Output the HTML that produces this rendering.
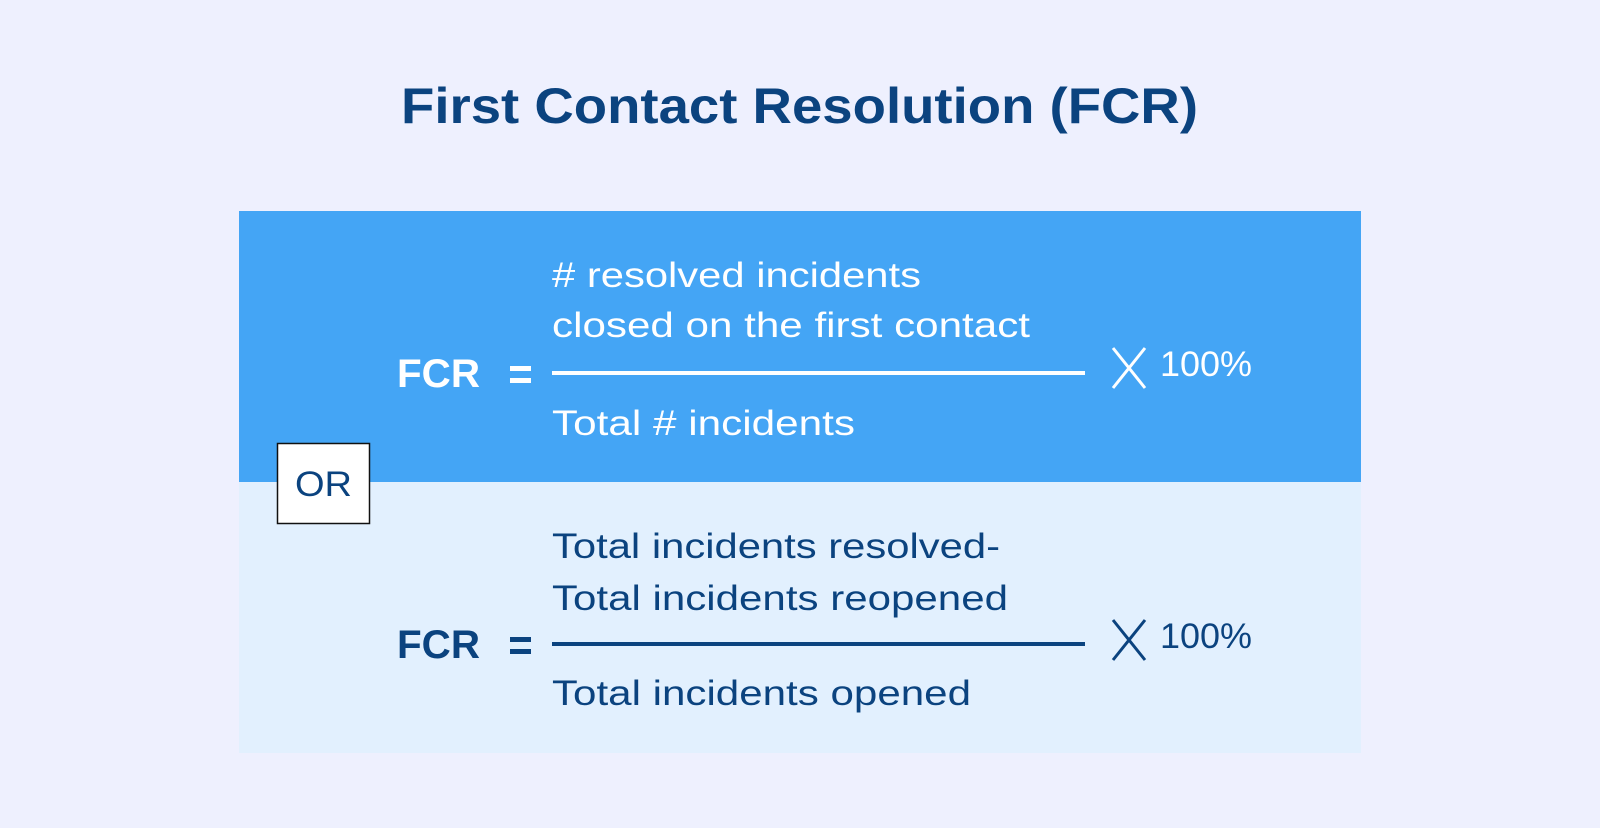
<!DOCTYPE html>
<html><head><meta charset="utf-8"><style>
html,body{margin:0;padding:0;background:#eef0fe;}
svg{display:block}
text{font-family:"Liberation Sans",sans-serif;}
</style></head><body>
<svg width="1600" height="828" viewBox="0 0 1600 828">
<rect width="1600" height="828" fill="#eef0fe"/>
<text x="401" y="123" font-size="50" font-weight="bold" fill="#0b437f" textLength="797" lengthAdjust="spacingAndGlyphs">First Contact Resolution (FCR)</text>
<rect x="239" y="211" width="1122" height="271" fill="#44a5f5"/>
<rect x="239" y="482" width="1122" height="271" fill="#e2f0fe"/>
<g fill="#ffffff">
<text x="397" y="387" font-size="40" font-weight="bold" textLength="83" lengthAdjust="spacingAndGlyphs">FCR</text>
<rect x="510" y="366" width="21" height="5"/>
<rect x="510" y="378" width="21" height="5"/>
<text x="552" y="287" font-size="35" textLength="369" lengthAdjust="spacingAndGlyphs"># resolved incidents</text>
<text x="552" y="337" font-size="35" textLength="478" lengthAdjust="spacingAndGlyphs">closed on the first contact</text>
<rect x="552" y="371" width="533" height="4"/>
<text x="552" y="435" font-size="35" textLength="303" lengthAdjust="spacingAndGlyphs">Total # incidents</text>
<text x="1160" y="376" font-size="35" textLength="92" lengthAdjust="spacingAndGlyphs">100%</text>
</g>
<path d="M1113 348 L1145 388 M1145 348 L1113 388" stroke="#fff" stroke-width="3" fill="none"/>
<g fill="#0b437f">
<text x="397" y="658" font-size="40" font-weight="bold" textLength="83" lengthAdjust="spacingAndGlyphs">FCR</text>
<rect x="510" y="637" width="21" height="5"/>
<rect x="510" y="649" width="21" height="5"/>
<text x="552" y="558" font-size="35" textLength="448" lengthAdjust="spacingAndGlyphs">Total incidents resolved-</text>
<text x="552" y="610" font-size="35" textLength="456" lengthAdjust="spacingAndGlyphs">Total incidents reopened</text>
<rect x="552" y="642" width="533" height="4"/>
<text x="552" y="705" font-size="35" textLength="419" lengthAdjust="spacingAndGlyphs">Total incidents opened</text>
<text x="1160" y="648" font-size="35" textLength="92" lengthAdjust="spacingAndGlyphs">100%</text>
</g>
<path d="M1113 620 L1145 660 M1145 620 L1113 660" stroke="#0b437f" stroke-width="3" fill="none"/>
<rect x="277.5" y="443.5" width="92" height="80" fill="#ffffff" stroke="#111" stroke-width="1.5"/>
<text x="323.5" y="496" font-size="35" fill="#0b437f" text-anchor="middle" textLength="57" lengthAdjust="spacingAndGlyphs">OR</text>
</svg>
</body></html>
